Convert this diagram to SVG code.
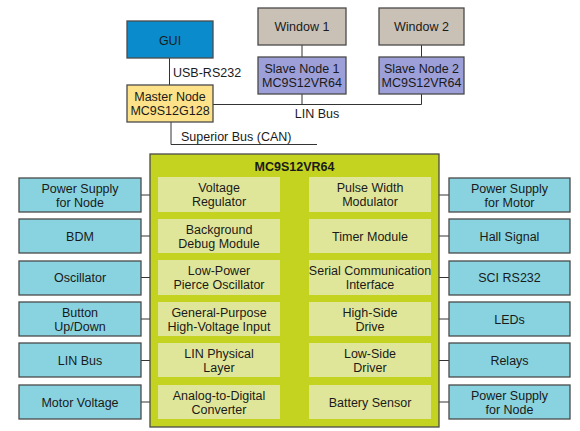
<svg xmlns="http://www.w3.org/2000/svg" width="580" height="431" viewBox="0 0 580 431">
<style>
text{font-family:"Liberation Sans",Arial,sans-serif;font-size:12.5px;fill:#1a1a1a;text-anchor:middle}
.lbl{text-anchor:start}
.box{stroke:#4a4a4a;stroke-width:1.3}
.ext{fill:#88d3df}
.inn{fill:#e0e699}
.ln{stroke:#333;stroke-width:1;fill:none}
.title{font-weight:bold}
</style>
<rect width="580" height="431" fill="#fff"/>
<g id="connectors">
<line class="ln" x1="169.5" y1="58" x2="169.5" y2="85"/>
<line class="ln" x1="302" y1="45" x2="302" y2="57"/>
<line class="ln" x1="421.5" y1="45" x2="421.5" y2="57"/>
<polyline class="ln" points="213,104.5 421.5,104.5 421.5,94"/>
<line class="ln" x1="302" y1="94" x2="302" y2="104.5"/>
<polyline class="ln" points="171,122 171,144.5 317,144.5"/>
<line class="ln" x1="141" y1="195" x2="158" y2="195"/>
<line class="ln" x1="141" y1="236" x2="158" y2="236"/>
<line class="ln" x1="141" y1="277.5" x2="158" y2="277.5"/>
<line class="ln" x1="141" y1="319" x2="158" y2="319"/>
<line class="ln" x1="141" y1="360.5" x2="158" y2="360.5"/>
<line class="ln" x1="141" y1="402" x2="158" y2="402"/>
<line class="ln" x1="431" y1="195" x2="449" y2="195"/>
<line class="ln" x1="431" y1="236" x2="449" y2="236"/>
<line class="ln" x1="431" y1="277.5" x2="449" y2="277.5"/>
<line class="ln" x1="431" y1="319" x2="449" y2="319"/>
<line class="ln" x1="431" y1="360.5" x2="449" y2="360.5"/>
<line class="ln" x1="431" y1="402" x2="449" y2="402"/>
<text class="lbl" x="173" y="76.5" font-size="13">USB-RS232</text>
<text x="317" y="117.5" font-size="13">LIN Bus</text>
<text class="lbl" x="181" y="140.5" font-size="13">Superior Bus (CAN)</text>
</g>
<g id="gui"><rect class="box" x="127" y="21" width="86" height="37" fill="#0a8ccc"/><text x="170" y="44.5" font-size="13">GUI</text></g>
<g id="window1"><rect class="box" x="258" y="8" width="88" height="37" fill="#c9c1b6"/><text x="302" y="31" font-size="13">Window 1</text></g>
<g id="window2"><rect class="box" x="379" y="8" width="85" height="37" fill="#c9c1b6"/><text x="421.5" y="31" font-size="13">Window 2</text></g>
<g id="slave1"><rect class="box" x="258" y="57" width="88" height="37" fill="#9d9fd8"/><text x="302" y="73">Slave Node 1<tspan x="302" dy="14">MC9S12VR64</tspan></text></g>
<g id="slave2"><rect class="box" x="379" y="57" width="85" height="37" fill="#9d9fd8"/><text x="421.5" y="73">Slave Node 2<tspan x="421.5" dy="14">MC9S12VR64</tspan></text></g>
<g id="master"><rect class="box" x="127" y="85" width="86" height="37" fill="#fde28a"/><text x="170" y="101">Master Node<tspan x="170" dy="14">MC9S12G128</tspan></text></g>
<g id="chip"><rect class="box" x="150" y="154" width="289" height="273" fill="#c3d31f"/><text class="title" x="294.5" y="171" font-size="13">MC9S12VR64</text></g>
<g id="left-column">
<g id="ext-power-node"><rect class="box ext" x="19" y="178" width="122" height="34"/><text x="80" y="192.5">Power Supply<tspan x="80" dy="14">for Node</tspan></text></g>
<g id="ext-bdm"><rect class="box ext" x="19" y="219" width="122" height="34"/><text x="80" y="240.5" font-size="13">BDM</text></g>
<g id="ext-osc"><rect class="box ext" x="19" y="261" width="122" height="34"/><text x="80" y="282" font-size="13">Oscillator</text></g>
<g id="ext-button"><rect class="box ext" x="19" y="302" width="122" height="34"/><text x="80" y="316.5">Button<tspan x="80" dy="14">Up/Down</tspan></text></g>
<g id="ext-lin"><rect class="box ext" x="19" y="343" width="122" height="34"/><text x="80" y="365" font-size="13">LIN Bus</text></g>
<g id="ext-motor-v"><rect class="box ext" x="19" y="385" width="122" height="34"/><text x="80" y="406.5" font-size="13">Motor Voltage</text></g>
</g>
<g id="inner-left">
<g id="vreg"><rect class="inn" x="158" y="177" width="122" height="35"/><text x="219" y="192">Voltage<tspan x="219" dy="14">Regulator</tspan></text></g>
<g id="bdm"><rect class="inn" x="158" y="219" width="122" height="34"/><text x="219" y="233.5">Background<tspan x="219" dy="14">Debug Module</tspan></text></g>
<g id="lpo"><rect class="inn" x="158" y="260" width="122" height="35"/><text x="219" y="275">Low-Power<tspan x="219" dy="14">Pierce Oscillator</tspan></text></g>
<g id="gpio"><rect class="inn" x="158" y="302" width="122" height="34"/><text x="219" y="316.5">General-Purpose<tspan x="219" dy="14">High-Voltage Input</tspan></text></g>
<g id="linphy"><rect class="inn" x="158" y="343" width="122" height="34"/><text x="219" y="357.5">LIN Physical<tspan x="219" dy="14">Layer</tspan></text></g>
<g id="adc"><rect class="inn" x="158" y="385" width="122" height="34"/><text x="219" y="399.5">Analog-to-Digital<tspan x="219" dy="14">Converter</tspan></text></g>
</g>
<g id="inner-right">
<g id="pwm"><rect class="inn" x="309" y="177" width="122" height="35"/><text x="370" y="192">Pulse Width<tspan x="370" dy="14">Modulator</tspan></text></g>
<g id="timer"><rect class="inn" x="309" y="219" width="122" height="34"/><text x="370" y="240.5" font-size="13">Timer Module</text></g>
<g id="sci"><rect class="inn" x="309" y="260" width="122" height="35"/><text x="370" y="275" font-size="12">Serial Communication<tspan x="370" dy="14" font-size="12.5">Interface</tspan></text></g>
<g id="hsd"><rect class="inn" x="309" y="302" width="122" height="34"/><text x="370" y="316.5">High-Side<tspan x="370" dy="14">Drive</tspan></text></g>
<g id="lsd"><rect class="inn" x="309" y="343" width="122" height="34"/><text x="370" y="357.5">Low-Side<tspan x="370" dy="14">Driver</tspan></text></g>
<g id="batt"><rect class="inn" x="309" y="385" width="122" height="34"/><text x="370" y="406.5" font-size="13">Battery Sensor</text></g>
</g>
<g id="right-column">
<g id="ext-power-motor"><rect class="box ext" x="449" y="178" width="121" height="34"/><text x="509.5" y="192.5">Power Supply<tspan x="509.5" dy="14">for Motor</tspan></text></g>
<g id="ext-hall"><rect class="box ext" x="449" y="219" width="121" height="34"/><text x="509.5" y="240.5" font-size="13">Hall Signal</text></g>
<g id="ext-sci"><rect class="box ext" x="449" y="261" width="121" height="34"/><text x="509.5" y="282" font-size="13">SCI RS232</text></g>
<g id="ext-leds"><rect class="box ext" x="449" y="302" width="121" height="34"/><text x="509.5" y="323.5" font-size="13">LEDs</text></g>
<g id="ext-relays"><rect class="box ext" x="449" y="343" width="121" height="34"/><text x="509.5" y="365" font-size="13">Relays</text></g>
<g id="ext-power-node2"><rect class="box ext" x="449" y="385" width="121" height="34"/><text x="509.5" y="399.5">Power Supply<tspan x="509.5" dy="14">for Node</tspan></text></g>
</g>
</svg>
